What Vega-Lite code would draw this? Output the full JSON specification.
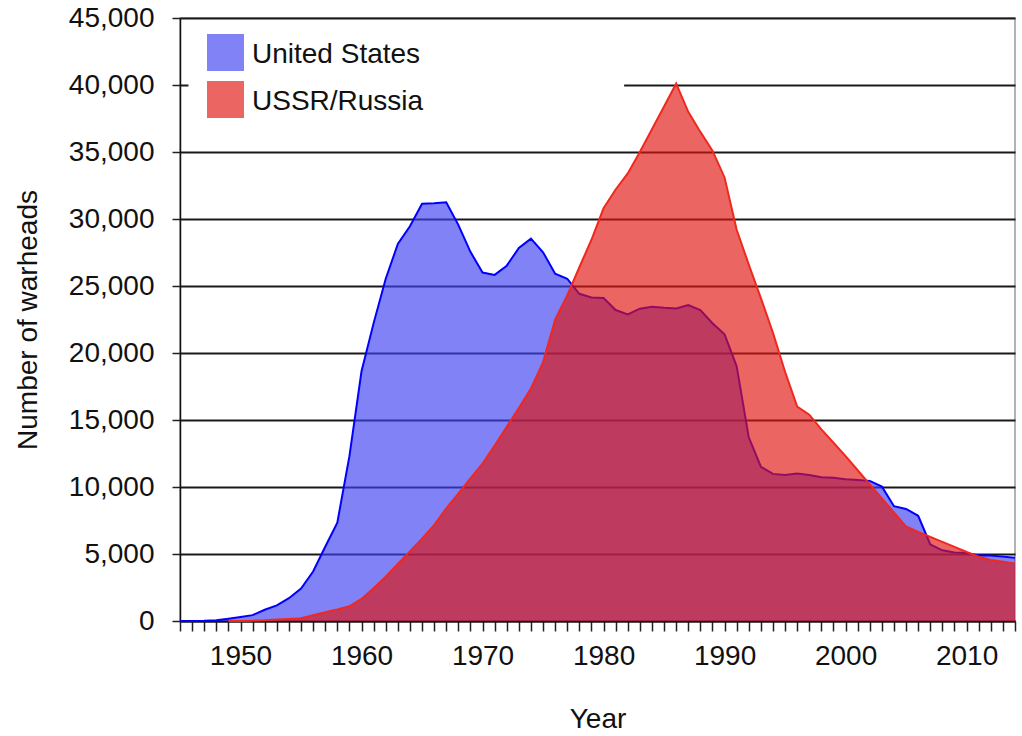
{
  "$schema": "https://vega.github.io/schema/vega-lite/v6.json",
  "autosize": {"type": "none"},
  "width": 835,
  "height": 603,
  "padding": {"left": 180, "top": 18, "right": 7, "bottom": 115},
  "background": "white",
  "config": {
    "font": "Liberation Sans",
    "view": {"stroke": "#999999", "strokeWidth": 1.5},
    "axis": {"labelColor": "#111111", "titleColor": "#111111", "labelFontSize": 28, "titleFontSize": 28, "titleFontWeight": "normal", "labelFont": "Liberation Sans", "titleFont": "Liberation Sans"},
    "legend": {"labelFont": "Liberation Sans"}
  },
  "datasets": {
    "stock": [
      {"year": 1945, "country": "United States", "n": 2},
      {"year": 1946, "country": "United States", "n": 9},
      {"year": 1947, "country": "United States", "n": 13},
      {"year": 1948, "country": "United States", "n": 50},
      {"year": 1949, "country": "United States", "n": 170},
      {"year": 1950, "country": "United States", "n": 299},
      {"year": 1951, "country": "United States", "n": 438},
      {"year": 1952, "country": "United States", "n": 841},
      {"year": 1953, "country": "United States", "n": 1169},
      {"year": 1954, "country": "United States", "n": 1703},
      {"year": 1955, "country": "United States", "n": 2422},
      {"year": 1956, "country": "United States", "n": 3692},
      {"year": 1957, "country": "United States", "n": 5543},
      {"year": 1958, "country": "United States", "n": 7345},
      {"year": 1959, "country": "United States", "n": 12298},
      {"year": 1960, "country": "United States", "n": 18638},
      {"year": 1961, "country": "United States", "n": 22229},
      {"year": 1962, "country": "United States", "n": 25540},
      {"year": 1963, "country": "United States", "n": 28133},
      {"year": 1964, "country": "United States", "n": 29463},
      {"year": 1965, "country": "United States", "n": 31139},
      {"year": 1966, "country": "United States", "n": 31175},
      {"year": 1967, "country": "United States", "n": 31255},
      {"year": 1968, "country": "United States", "n": 29561},
      {"year": 1969, "country": "United States", "n": 27552},
      {"year": 1970, "country": "United States", "n": 26008},
      {"year": 1971, "country": "United States", "n": 25830},
      {"year": 1972, "country": "United States", "n": 26516},
      {"year": 1973, "country": "United States", "n": 27835},
      {"year": 1974, "country": "United States", "n": 28537},
      {"year": 1975, "country": "United States", "n": 27519},
      {"year": 1976, "country": "United States", "n": 25914},
      {"year": 1977, "country": "United States", "n": 25542},
      {"year": 1978, "country": "United States", "n": 24418},
      {"year": 1979, "country": "United States", "n": 24138},
      {"year": 1980, "country": "United States", "n": 24104},
      {"year": 1981, "country": "United States", "n": 23208},
      {"year": 1982, "country": "United States", "n": 22886},
      {"year": 1983, "country": "United States", "n": 23305},
      {"year": 1984, "country": "United States", "n": 23459},
      {"year": 1985, "country": "United States", "n": 23368},
      {"year": 1986, "country": "United States", "n": 23317},
      {"year": 1987, "country": "United States", "n": 23575},
      {"year": 1988, "country": "United States", "n": 23205},
      {"year": 1989, "country": "United States", "n": 22217},
      {"year": 1990, "country": "United States", "n": 21392},
      {"year": 1991, "country": "United States", "n": 19008},
      {"year": 1992, "country": "United States", "n": 13708},
      {"year": 1993, "country": "United States", "n": 11511},
      {"year": 1994, "country": "United States", "n": 10979},
      {"year": 1995, "country": "United States", "n": 10904},
      {"year": 1996, "country": "United States", "n": 11011},
      {"year": 1997, "country": "United States", "n": 10903},
      {"year": 1998, "country": "United States", "n": 10732},
      {"year": 1999, "country": "United States", "n": 10685},
      {"year": 2000, "country": "United States", "n": 10577},
      {"year": 2001, "country": "United States", "n": 10526},
      {"year": 2002, "country": "United States", "n": 10457},
      {"year": 2003, "country": "United States", "n": 10027},
      {"year": 2004, "country": "United States", "n": 8570},
      {"year": 2005, "country": "United States", "n": 8360},
      {"year": 2006, "country": "United States", "n": 7853},
      {"year": 2007, "country": "United States", "n": 5709},
      {"year": 2008, "country": "United States", "n": 5273},
      {"year": 2009, "country": "United States", "n": 5113},
      {"year": 2010, "country": "United States", "n": 5066},
      {"year": 2011, "country": "United States", "n": 4897},
      {"year": 2012, "country": "United States", "n": 4881},
      {"year": 2013, "country": "United States", "n": 4804},
      {"year": 2014, "country": "United States", "n": 4717},
      {"year": 1949, "country": "USSR/Russia", "n": 1},
      {"year": 1950, "country": "USSR/Russia", "n": 5},
      {"year": 1951, "country": "USSR/Russia", "n": 25},
      {"year": 1952, "country": "USSR/Russia", "n": 50},
      {"year": 1953, "country": "USSR/Russia", "n": 120},
      {"year": 1954, "country": "USSR/Russia", "n": 150},
      {"year": 1955, "country": "USSR/Russia", "n": 200},
      {"year": 1956, "country": "USSR/Russia", "n": 426},
      {"year": 1957, "country": "USSR/Russia", "n": 660},
      {"year": 1958, "country": "USSR/Russia", "n": 869},
      {"year": 1959, "country": "USSR/Russia", "n": 1100},
      {"year": 1960, "country": "USSR/Russia", "n": 1650},
      {"year": 1961, "country": "USSR/Russia", "n": 2450},
      {"year": 1962, "country": "USSR/Russia", "n": 3300},
      {"year": 1963, "country": "USSR/Russia", "n": 4250},
      {"year": 1964, "country": "USSR/Russia", "n": 5200},
      {"year": 1965, "country": "USSR/Russia", "n": 6150},
      {"year": 1966, "country": "USSR/Russia", "n": 7150},
      {"year": 1967, "country": "USSR/Russia", "n": 8400},
      {"year": 1968, "country": "USSR/Russia", "n": 9500},
      {"year": 1969, "country": "USSR/Russia", "n": 10650},
      {"year": 1970, "country": "USSR/Russia", "n": 11750},
      {"year": 1971, "country": "USSR/Russia", "n": 13100},
      {"year": 1972, "country": "USSR/Russia", "n": 14500},
      {"year": 1973, "country": "USSR/Russia", "n": 15900},
      {"year": 1974, "country": "USSR/Russia", "n": 17350},
      {"year": 1975, "country": "USSR/Russia", "n": 19300},
      {"year": 1976, "country": "USSR/Russia", "n": 22500},
      {"year": 1977, "country": "USSR/Russia", "n": 24300},
      {"year": 1978, "country": "USSR/Russia", "n": 26400},
      {"year": 1979, "country": "USSR/Russia", "n": 28450},
      {"year": 1980, "country": "USSR/Russia", "n": 30800},
      {"year": 1981, "country": "USSR/Russia", "n": 32200},
      {"year": 1982, "country": "USSR/Russia", "n": 33400},
      {"year": 1983, "country": "USSR/Russia", "n": 35000},
      {"year": 1984, "country": "USSR/Russia", "n": 36700},
      {"year": 1985, "country": "USSR/Russia", "n": 38400},
      {"year": 1986, "country": "USSR/Russia", "n": 40100},
      {"year": 1987, "country": "USSR/Russia", "n": 38000},
      {"year": 1988, "country": "USSR/Russia", "n": 36500},
      {"year": 1989, "country": "USSR/Russia", "n": 35100},
      {"year": 1990, "country": "USSR/Russia", "n": 33100},
      {"year": 1991, "country": "USSR/Russia", "n": 29200},
      {"year": 1992, "country": "USSR/Russia", "n": 26600},
      {"year": 1993, "country": "USSR/Russia", "n": 24100},
      {"year": 1994, "country": "USSR/Russia", "n": 21500},
      {"year": 1995, "country": "USSR/Russia", "n": 18600},
      {"year": 1996, "country": "USSR/Russia", "n": 16000},
      {"year": 1997, "country": "USSR/Russia", "n": 15400},
      {"year": 1998, "country": "USSR/Russia", "n": 14300},
      {"year": 1999, "country": "USSR/Russia", "n": 13300},
      {"year": 2000, "country": "USSR/Russia", "n": 12300},
      {"year": 2001, "country": "USSR/Russia", "n": 11250},
      {"year": 2002, "country": "USSR/Russia", "n": 10200},
      {"year": 2003, "country": "USSR/Russia", "n": 9150},
      {"year": 2004, "country": "USSR/Russia", "n": 8100},
      {"year": 2005, "country": "USSR/Russia", "n": 7050},
      {"year": 2006, "country": "USSR/Russia", "n": 6650},
      {"year": 2007, "country": "USSR/Russia", "n": 6280},
      {"year": 2008, "country": "USSR/Russia", "n": 5900},
      {"year": 2009, "country": "USSR/Russia", "n": 5530},
      {"year": 2010, "country": "USSR/Russia", "n": 5150},
      {"year": 2011, "country": "USSR/Russia", "n": 4800},
      {"year": 2012, "country": "USSR/Russia", "n": 4550},
      {"year": 2013, "country": "USSR/Russia", "n": 4420},
      {"year": 2014, "country": "USSR/Russia", "n": 4300}
    ],
    "legendbg": [
      {"x": 1945.7, "x2": 1981.7, "y": 38000, "y2": 42000}
    ]
  },
  "encoding": {
    "x": {
      "field": "year",
      "type": "quantitative",
      "scale": {"domain": [1945, 2014], "nice": false, "zero": false},
      "axis": {
        "title": "Year",
        "values": [1945,1946,1947,1948,1949,1950,1951,1952,1953,1954,1955,1956,1957,1958,1959,1960,1961,1962,1963,1964,1965,1966,1967,1968,1969,1970,1971,1972,1973,1974,1975,1976,1977,1978,1979,1980,1981,1982,1983,1984,1985,1986,1987,1988,1989,1990,1991,1992,1993,1994,1995,1996,1997,1998,1999,2000,2001,2002,2003,2004,2005,2006,2007,2008,2009,2010,2011,2012,2013,2014],
        "labelExpr": "datum.value % 10 === 0 ? '' + datum.value : ''",
        "labelOverlap": false,
        "labelFlush": false,
        "grid": false,
        "tickSize": 10,
        "tickColor": "#222222",
        "tickWidth": 1.5,
        "labelPadding": 11,
        "domainColor": "#111111",
        "domainWidth": 2,
        "titlePadding": 35,
        "encode": {"ticks": {"update": {"y2": {"signal": "datum.value % 10 === 0 ? 10 : 5"}}}}
      }
    },
    "y": {
      "field": "n",
      "type": "quantitative",
      "scale": {"domain": [0, 45000], "nice": false},
      "axis": {
        "title": "Number of warheads",
        "values": [0, 5000, 10000, 15000, 20000, 25000, 30000, 35000, 40000, 45000],
        "format": ",d",
        "grid": true,
        "gridColor": "#1a1a1a",
        "gridWidth": 2,
        "gridOpacity": 1,
        "tickSize": 8,
        "tickColor": "#222222",
        "tickWidth": 1.5,
        "labelPadding": 18,
        "domainColor": "#111111",
        "domainWidth": 1.5,
        "titlePadding": 26
      }
    }
  },
  "layer": [
    {
      "data": {"name": "legendbg"},
      "mark": {"type": "rect", "fill": "white"},
      "encoding": {
        "x": {"field": "x", "type": "quantitative"},
        "x2": {"field": "x2"},
        "y": {"field": "y", "type": "quantitative"},
        "y2": {"field": "y2"}
      }
    },
    {
      "data": {"name": "stock"},
      "transform": [{"filter": "datum.country === 'United States'"}],
      "mark": {"type": "area", "fillOpacity": 0.65},
      "encoding": {
        "fill": {
          "field": "country",
          "type": "nominal",
          "scale": {"domain": ["United States", "USSR/Russia"], "range": ["#3f3ff3", "#e0140e"]},
          "legend": {
            "title": null,
            "orient": "none",
            "legendX": 27,
            "legendY": 16,
            "padding": 0,
            "symbolType": "square",
            "symbolSize": 1369,
            "symbolOpacity": 0.65,
            "symbolStrokeWidth": 0,
            "labelFontSize": 28,
            "labelColor": "#111111",
            "labelOffset": 8,
            "labelBaseline": "middle",
            "rowPadding": 10,
            "labelLimit": 400,
            "encode": {"labels": {"update": {"dy": {"value": 2}}}}
          }
        }
      }
    },
    {
      "data": {"name": "stock"},
      "transform": [{"filter": "datum.country === 'United States'"}],
      "mark": {"type": "line", "stroke": "#0000ff", "strokeWidth": 2},
      "encoding": {}
    },
    {
      "data": {"name": "stock"},
      "transform": [{"filter": "datum.country === 'USSR/Russia'"}],
      "mark": {"type": "area", "fillOpacity": 0.65},
      "encoding": {
        "fill": {"field": "country", "type": "nominal"}
      }
    },
    {
      "data": {"name": "stock"},
      "transform": [{"filter": "datum.country === 'USSR/Russia'"}],
      "mark": {"type": "line", "stroke": "#f0281e", "strokeWidth": 2},
      "encoding": {}
    }
  ]
}
